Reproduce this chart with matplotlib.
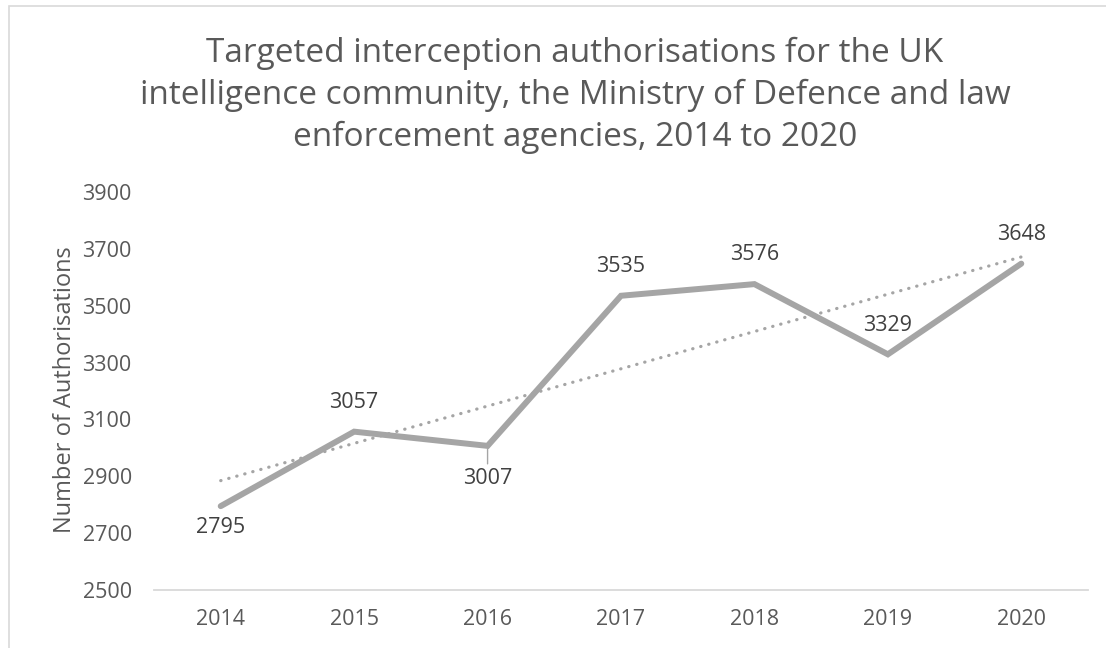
import matplotlib
matplotlib.use("Agg")
import matplotlib.pyplot as plt
from matplotlib.patches import Rectangle
import numpy as np

years = ["2014", "2015", "2016", "2017", "2018", "2019", "2020"]
authorisations = [2795, 3057, 3007, 3535, 3576, 3329, 3648]
label_above = [False, True, False, True, True, True, True]
y_ticks = [2500, 2700, 2900, 3100, 3300, 3500, 3700, 3900]

title_lines = ["Targeted interception authorisations for the UK",
               "intelligence community, the Ministry of Defence and law",
               "enforcement agencies, 2014 to 2020"]
y_label = "Number of Authorisations"

plt.rcParams['font.family'] = ['Open Sans', 'DejaVu Sans']

W, H = 1106, 648
fig = plt.figure(figsize=(W / 100, H / 100), dpi=100)
fig.patch.set_facecolor("white")

# chart border (only top and left edges visible)
fig.patches.append(Rectangle((9 / W, -0.5), 2.0, 1.5 - 6 / H,
                             transform=fig.transFigure, fill=False,
                             edgecolor="#d9d9d9", linewidth=1.2))

ax = fig.add_axes([154 / W, (H - 590) / H, (1088 - 154) / W, (590 - 192) / H])

x = np.arange(len(years))
ax.plot(x, authorisations, color="#a5a5a5", linewidth=4.3,
        solid_capstyle="round", solid_joinstyle="miter", zorder=3)

# linear trendline
coef = np.polyfit(x, authorisations, 1)
trend = np.polyval(coef, x)
ax.plot(x[[0, -1]], trend[[0, -1]], color="#a5a5a5", linewidth=2.3,
        linestyle=(0, (0.1, 2.5)), dash_capstyle="round", zorder=2)

# data labels
for i, (v, up) in enumerate(zip(authorisations, label_above)):
    if up:
        ax.annotate(f"{v}", (x[i], v), xytext=(0, 21), textcoords="offset points",
                    ha="center", va="center", fontsize=15.5, color="#404040")
    elif i == 2:
        ax.annotate(f"{v}", (x[i], v), xytext=(0, -23.5), textcoords="offset points",
                    ha="center", va="center", fontsize=15.5, color="#404040",
                    arrowprops=dict(arrowstyle="-", color="#a5a5a5", lw=1,
                                    shrinkA=1, shrinkB=2))
    else:
        ax.annotate(f"{v}", (x[i], v), xytext=(0, -15.5), textcoords="offset points",
                    ha="center", va="center", fontsize=15.5, color="#404040")

ax.set_xlim(-0.5, len(years) - 0.5)
ax.set_ylim(y_ticks[0], y_ticks[-1])
ax.set_yticks(y_ticks)
ax.set_xticks(x)
ax.set_xticklabels(years)
ax.tick_params(axis="both", length=0, labelsize=15.5, labelcolor="#595959")
ax.tick_params(axis="y", pad=16)
ax.tick_params(axis="x", pad=14)
for s in ["top", "right", "left"]:
    ax.spines[s].set_visible(False)
ax.spines["bottom"].set_color("#d9d9d9")
ax.spines["bottom"].set_linewidth(1.3)

fig.text(65 / W, 1 - 390 / H, y_label, rotation=90, ha="center", va="center",
         fontsize=17, color="#595959")

# title lines, centred
baselines = [62, 104, 146]
for line, b in zip(title_lines, baselines):
    fig.text(575 / W, 1 - b / H, line, ha="center", va="baseline",
             fontsize=24, color="#595959")

fig.savefig("out.png", dpi=100, facecolor="white")
